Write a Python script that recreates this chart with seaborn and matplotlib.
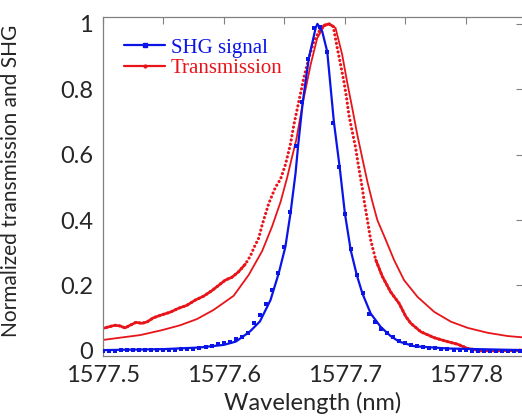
import numpy as np
import pandas as pd
import matplotlib.pyplot as plt
import seaborn as sns
from matplotlib.lines import Line2D
from matplotlib.ticker import MultipleLocator

# SHG 实测点（每 0.005 nm）
shg_wl = [1577.500, 1577.505, 1577.510, 1577.515, 1577.520, 1577.525, 1577.530, 1577.535, 1577.540, 1577.545,
          1577.550, 1577.555, 1577.560, 1577.565, 1577.570, 1577.575, 1577.580, 1577.585, 1577.590, 1577.595,
          1577.600, 1577.605, 1577.610, 1577.615, 1577.620, 1577.625, 1577.630, 1577.635, 1577.640, 1577.645,
          1577.650, 1577.655, 1577.660, 1577.665, 1577.670, 1577.675, 1577.680, 1577.685, 1577.690, 1577.695,
          1577.700, 1577.705, 1577.710, 1577.715, 1577.720, 1577.725, 1577.730, 1577.735, 1577.740, 1577.745,
          1577.750, 1577.755, 1577.760, 1577.765, 1577.770, 1577.775, 1577.780, 1577.785, 1577.790, 1577.795,
          1577.800, 1577.805, 1577.810, 1577.815, 1577.820, 1577.825, 1577.830, 1577.835, 1577.840, 1577.845]
shg_val = [0.0, 0.0, 0.0, 0.001, 0.001, 0.002, 0.002, 0.002, 0.002, 0.001,
           0.001, 0.001, 0.002, 0.005, 0.005, 0.006, 0.010, 0.012, 0.015, 0.020,
           0.023, 0.028, 0.035, 0.043, 0.055, 0.086, 0.109, 0.143, 0.186, 0.239,
           0.318, 0.425, 0.627, 0.762, 0.892, 0.987, 0.990, 0.915, 0.698, 0.561,
           0.418, 0.310, 0.232, 0.176, 0.114, 0.089, 0.068, 0.053, 0.041, 0.031,
           0.023, 0.017, 0.014, 0.012, 0.010, 0.008, 0.006, 0.004, 0.003, 0.002,
           0.001, 0.0, 0.0, 0.0, 0.0, 0.0, 0.0, 0.0, 0.0, 0.0]

# SHG 拟合曲线
shg_fit_wl = [1577.500, 1577.550, 1577.580, 1577.600, 1577.610, 1577.6165, 1577.622, 1577.630, 1577.6387,
              1577.6455, 1577.651, 1577.6552, 1577.6594, 1577.6616, 1577.6654, 1577.6704, 1577.676, 1577.6775,
              1577.6815, 1577.6856, 1577.6911, 1577.696, 1577.7002, 1577.705, 1577.710, 1577.7146, 1577.7215,
              1577.7298, 1577.738, 1577.745, 1577.7574, 1577.785, 1577.8475]
shg_fit_val = [0.002, 0.005, 0.010, 0.018, 0.028, 0.045, 0.060, 0.090, 0.155,
               0.237, 0.318, 0.420, 0.543, 0.630, 0.762, 0.895, 0.987, 1.0,
               0.976, 0.915, 0.700, 0.558, 0.420, 0.308, 0.232, 0.176, 0.114,
               0.073, 0.045, 0.028, 0.014, 0.007, 0.002]

# 透射实测
tr_wl = [1577.500, 1577.5047, 1577.5102, 1577.5143, 1577.5185, 1577.5226, 1577.5276, 1577.5323, 1577.5365,
         1577.542, 1577.5489, 1577.5558, 1577.5627, 1577.5696, 1577.5765, 1577.5834, 1577.5903, 1577.5958,
         1577.6013, 1577.6069, 1577.6124, 1577.6179, 1577.6221, 1577.625, 1577.629, 1577.6318, 1577.6373,
         1577.6428, 1577.647, 1577.6511, 1577.6552, 1577.658, 1577.6621, 1577.6662, 1577.6704, 1577.6745,
         1577.6787, 1577.6828, 1577.687, 1577.6906, 1577.6939, 1577.6967, 1577.6994, 1577.7016, 1577.7035,
         1577.7063, 1577.7091, 1577.7113, 1577.7146, 1577.716, 1577.7188, 1577.7215, 1577.7257, 1577.7312,
         1577.738, 1577.745, 1577.7505, 1577.7547, 1577.763, 1577.774, 1577.785, 1577.7934, 1577.8017,
         1577.8127, 1577.829, 1577.8475]
tr_val = [0.068, 0.073, 0.078, 0.076, 0.070, 0.078, 0.087, 0.084, 0.088,
          0.101, 0.110, 0.118, 0.130, 0.139, 0.155, 0.167, 0.184, 0.200,
          0.216, 0.225, 0.242, 0.265, 0.290, 0.315, 0.345, 0.385, 0.451,
          0.500, 0.525, 0.570, 0.632, 0.691, 0.762, 0.834, 0.895, 0.946,
          0.976, 0.995, 1.0, 0.992, 0.926, 0.874, 0.823, 0.773, 0.721,
          0.670, 0.620, 0.568, 0.497, 0.461, 0.400, 0.339, 0.278, 0.227,
          0.180, 0.145, 0.105, 0.084, 0.058, 0.040, 0.028, 0.020, 0.007,
          0.0, 0.0, 0.002]

# 透射拟合
tr_fit_wl = [1577.500, 1577.5143, 1577.531, 1577.5489, 1577.564, 1577.5779, 1577.5917, 1577.6013, 1577.6082,
             1577.6207, 1577.6318, 1577.640, 1577.647, 1577.6525, 1577.6566, 1577.660, 1577.6662, 1577.6718,
             1577.6773, 1577.6828, 1577.687, 1577.6925, 1577.698, 1577.702, 1577.7063, 1577.7105, 1577.7146,
             1577.7188, 1577.7229, 1577.727, 1577.734, 1577.7408, 1577.7491, 1577.7602, 1577.774, 1577.7878,
             1577.8017, 1577.8182, 1577.8348, 1577.8475]
tr_fit_val = [0.033, 0.040, 0.048, 0.063, 0.078, 0.097, 0.125, 0.150, 0.168,
              0.232, 0.305, 0.380, 0.455, 0.530, 0.594, 0.645, 0.773, 0.874,
              0.956, 0.992, 1.0, 0.987, 0.905, 0.823, 0.742, 0.660, 0.589,
              0.517, 0.456, 0.400, 0.339, 0.278, 0.216, 0.165, 0.119, 0.089,
              0.070, 0.055, 0.045, 0.041]

x_ticks = [1577.5, 1577.6, 1577.7, 1577.8]
x_ticklabels = ['1577.5', '1577.6', '1577.7', '1577.8']
y_ticks = [0, 0.2, 0.4, 0.6, 0.8, 1.0]
y_ticklabels = ['0', '0.2', '0.4', '0.6', '0.8', '1']

BLUE = '#0a14e6'
RED = '#e8141a'

sns.set_theme(style='white')
plt.rcParams['font.family'] = ['Lato', 'DejaVu Sans']
plt.rcParams['xtick.direction'] = 'in'
plt.rcParams['ytick.direction'] = 'in'

fig = plt.figure(figsize=(5.22, 4.16), dpi=100)
ax = fig.add_axes([0.1967, 0.145, 0.8052, 0.8142])

df_tr = pd.DataFrame({'wl': tr_wl, 'val': tr_val})
# 平缓段画实线，陡峭段显示为点
flat = (df_tr['val'] < 0.28) | (df_tr['val'] > 0.97)
df_tr['seg'] = (flat != flat.shift()).cumsum()

sns.lineplot(data=df_tr, x='wl', y='val', color=RED, lw=2.3, estimator=None, sort=False,
             linestyle=(0, (0.01, 1.35)), dash_capstyle='round', ax=ax)
sns.lineplot(data=df_tr[flat], x='wl', y='val', units='seg', estimator=None, sort=False,
             color=RED, lw=1.9, ax=ax)
sns.lineplot(x=tr_fit_wl, y=tr_fit_val, color=RED, lw=1.3, estimator=None, sort=False, ax=ax)

sns.lineplot(x=shg_fit_wl, y=shg_fit_val, color=BLUE, lw=1.6, estimator=None, sort=False, ax=ax)
sns.scatterplot(x=shg_wl, y=shg_val, color=BLUE, marker='s', s=9, linewidth=0, ax=ax, zorder=3)

ax.set_xlim(1577.5, 1577.8474)
ax.set_ylim(-0.015, 1.021)
ax.set_xticks(x_ticks)
ax.set_xticklabels(x_ticklabels)
ax.xaxis.set_minor_locator(MultipleLocator(0.05))
ax.set_yticks(y_ticks)
ax.set_yticklabels(y_ticklabels)
ax.tick_params(which='both', direction='in', top=True, right=True, length=5, width=0.8,
               color='#808080', labelsize=17, pad=7)
ax.tick_params(which='minor', length=5)
for sp in ax.spines.values():
    sp.set_color('#808080')
    sp.set_linewidth(0.9)

ax.set_xlabel('Wavelength (nm)', fontsize=17, labelpad=4)
ax.set_ylabel('Normalized transmission and SHG', fontsize=15)
ax.yaxis.set_label_coords(-0.194, 0.517)

handles = [Line2D([], [], color=BLUE, lw=1.6, marker='s', markersize=2.5),
           Line2D([], [], color=RED, lw=1.6, marker='o', markersize=2)]
leg = ax.legend(handles, ['SHG signal', 'Transmission'], loc='upper left',
                bbox_to_anchor=(0.05, 0.938), frameon=False, borderpad=0, borderaxespad=0,
                handlelength=2.0, handletextpad=0.25, labelspacing=0.05,
                prop={'family': 'Liberation Serif', 'size': 15})
for txt, c in zip(leg.get_texts(), [BLUE, RED]):
    txt.set_color(c)

plt.savefig('out.png', dpi=100)
